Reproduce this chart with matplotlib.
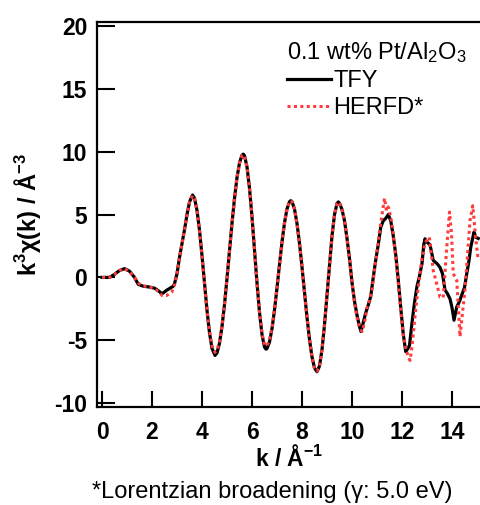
import numpy as np
import matplotlib.pyplot as plt

plt.rcParams['font.family'] = ['Liberation Sans', 'DejaVu Sans']
plt.rcParams['mathtext.fontset'] = 'custom'
plt.rcParams['mathtext.rm'] = 'Liberation Sans'
plt.rcParams['mathtext.bf'] = 'Liberation Sans:bold'
plt.rcParams['mathtext.it'] = 'Liberation Sans:italic'
plt.rcParams['axes.unicode_minus'] = False

# TFY spectrum (k, k^3 chi(k))
k_tfy = [0.0, 0.3, 0.5, 0.7, 0.9, 1.1, 1.3, 1.45, 1.65, 1.85, 2.1, 2.25, 2.4, 2.6, 2.85,
         2.9, 3.0, 3.1, 3.2, 3.3, 3.4, 3.5, 3.62, 3.7, 3.8, 3.9, 4.0, 4.1, 4.2, 4.3, 4.4,
         4.52, 4.6, 4.7, 4.8, 4.9, 5.0, 5.1, 5.2, 5.3, 5.4, 5.5, 5.6, 5.65, 5.7, 5.8, 5.9,
         6.0, 6.1, 6.2, 6.3, 6.4, 6.5, 6.56, 6.6, 6.7, 6.8, 6.9, 7.0, 7.1, 7.2, 7.3, 7.4,
         7.5, 7.55, 7.6, 7.7, 7.8, 7.9, 8.0, 8.1, 8.2, 8.3, 8.4, 8.5, 8.6, 8.7, 8.8, 8.9,
         9.0, 9.1, 9.2, 9.3, 9.4, 9.45, 9.5, 9.6, 9.7, 9.8, 9.9, 10.0, 10.1, 10.2, 10.3,
         10.36, 10.45, 10.55, 10.65, 10.75, 10.85, 10.95, 11.05, 11.15, 11.25, 11.35,
         11.45, 11.55, 11.65, 11.75, 11.85, 11.95, 12.05, 12.15, 12.25, 12.3, 12.4, 12.5,
         12.6, 12.7, 12.8, 12.87, 12.92, 13.0, 13.12, 13.25, 13.4, 13.52, 13.62, 13.72,
         13.82, 13.92, 14.0, 14.08, 14.19, 14.3, 14.39, 14.5, 14.59, 14.67, 14.75, 14.88,
         14.95, 15.05]
chi_tfy = [0.0, 0.0, 0.25, 0.55, 0.7, 0.5, 0.0, -0.55, -0.7, -0.75, -0.85, -1.05, -1.3,
           -1.0, -0.7, -0.5, 0.3, 1.6, 2.7, 3.8, 5.0, 6.0, 6.55, 6.3, 5.33, 3.74, 1.72,
           -0.49, -2.62, -4.41, -5.65, -6.2, -6.0, -5.22, -3.9, -2.14, -0.06, 2.14, 4.31,
           6.3, 7.94, 9.11, 9.72, 9.8, 9.68, 8.78, 7.08, 4.8, 2.18, -0.45, -2.78, -4.55,
           -5.54, -5.7, -5.65, -5.13, -4.07, -2.59, -0.83, 1.04, 2.82, 4.34, 5.45, 6.02,
           6.1, 6.02, 5.43, 4.28, 2.7, 0.82, -1.21, -3.18, -4.94, -6.32, -7.2, -7.5, -7.04,
           -5.73, -3.76, -1.37, 1.1, 3.31, 4.99, 5.88, 6.0, 5.9, 5.4, 4.5, 3.1, 1.5, -0.4,
           -1.9, -3.0, -3.9, -4.3, -3.6, -2.8, -2.2, -1.5, 0.0, 1.4, 2.6, 4.0, 4.5, 4.7,
           5.0, 4.5, 3.3, 1.8, -0.2, -2.4, -4.5, -5.9, -5.6, -5.4, -3.6, -2.0, -0.7, 0.1,
           1.1, 2.6, 3.07, 2.8, 2.6, 1.35, 1.1, 0.8, 0.3, -1.0, -1.3, -1.7, -2.4, -3.4,
           -2.35, -1.9, -1.4, -0.8, 0.3, 1.2, 2.4, 3.6, 3.2, 3.1]

# HERFD spectrum (Lorentzian broadened)
k_herfd = [0.0, 0.3, 0.5, 0.7, 0.9, 1.1, 1.3, 1.45, 1.65, 1.85, 2.1, 2.25, 2.4, 2.59,
           2.79, 2.9, 3.0, 3.1, 3.2, 3.3, 3.4, 3.5, 3.62, 3.7, 3.8, 3.9, 4.0, 4.1, 4.2,
           4.3, 4.4, 4.52, 4.6, 4.7, 4.8, 4.9, 5.0, 5.1, 5.2, 5.3, 5.4, 5.5, 5.6, 5.65,
           5.7, 5.8, 5.9, 6.0, 6.1, 6.2, 6.3, 6.4, 6.5, 6.56, 6.6, 6.7, 6.8, 6.9, 7.0,
           7.1, 7.2, 7.3, 7.4, 7.5, 7.55, 7.6, 7.7, 7.8, 7.9, 8.0, 8.1, 8.2, 8.3, 8.4,
           8.5, 8.6, 8.7, 8.8, 8.9, 9.0, 9.1, 9.2, 9.3, 9.4, 9.45, 9.5, 9.6, 9.7, 9.8,
           9.9, 10.0, 10.1, 10.2, 10.3, 10.4, 10.5, 10.6, 10.7, 10.8, 10.9, 11.0, 11.1,
           11.2, 11.3, 11.38, 11.45, 11.55, 11.65, 11.75, 11.85, 11.95, 12.05, 12.15,
           12.25, 12.32, 12.4, 12.5, 12.6, 12.7, 12.8, 12.9, 12.97, 13.09, 13.25, 13.4,
           13.52, 13.65, 13.79, 13.9, 13.98, 14.05, 14.19, 14.32, 14.42, 14.52, 14.62,
           14.72, 14.83, 14.96, 15.05]
chi_herfd = [0.0, 0.0, 0.25, 0.55, 0.7, 0.45, 0.0, -0.45, -0.7, -0.7, -0.9, -1.1, -1.43,
             -1.43, -1.16, -0.6, 0.3, 1.6, 2.7, 3.8, 5.0, 6.0, 6.5, 6.25, 5.3, 3.7, 1.7,
             -0.5, -2.6, -4.3, -5.45, -5.95, -5.8, -5.1, -3.85, -2.1, -0.06, 2.14, 4.31,
             6.3, 7.94, 9.11, 9.7, 9.75, 9.65, 8.78, 7.08, 4.8, 2.18, -0.45, -2.75,
             -4.45, -5.35, -5.45, -5.4, -5.0, -4.0, -2.55, -0.8, 1.04, 2.82, 4.34, 5.45,
             6.02, 6.1, 6.02, 5.43, 4.28, 2.7, 0.82, -1.21, -3.18, -4.94, -6.32, -7.2,
             -7.45, -7.0, -5.7, -3.76, -1.37, 1.1, 3.31, 4.99, 5.88, 6.0, 5.9, 5.4, 4.5,
             3.1, 1.5, -0.4, -2.0, -3.2, -4.0, -4.3, -3.6, -2.4, -1.8, -1.0, 0.6, 2.0,
             3.6, 5.0, 6.3, 5.3, 5.6, 4.8, 3.4, 1.6, -0.4, -2.6, -4.6, -5.6, -6.3, -6.6,
             -5.5, -3.5, -1.6, 0.0, 1.5, 2.5, 2.9, 3.2, 0.55, -0.6, -1.56, -1.6, 2.4,
             5.2, 3.5, 0.3, -0.24, -4.7, -2.8, -1.0, 1.8, 4.5, 5.7, 2.9, 1.35]

legend_title = "0.1 wt% Pt/Al$_2$O$_3$"
series_labels = ["TFY", "HERFD*"]

fig = plt.figure(figsize=(4.81, 5.05), dpi=100)
ax = fig.add_axes([0.2017, 0.194, 0.7983, 0.7624])

ax.plot(k_tfy, chi_tfy, color='black', lw=2.3, label=series_labels[0])
ax.plot(k_herfd, chi_herfd, color='#ff3b3b', lw=2.2, ls=(0, (1, 1.1)), label=series_labels[1])

ax.set_xlim(-0.2, 15.16)
ax.set_ylim(-10.3, 20.3)
ax.set_xticks(np.arange(0, 15, 2))
ax.set_yticks(np.arange(-10, 21, 5))

for side in ['left', 'bottom', 'top']:
    ax.spines[side].set_linewidth(1.6)
ax.spines['right'].set_visible(False)

ax.tick_params(axis='x', direction='in', length=11.5, width=1.5, pad=10, labelsize=16.5)
ax.tick_params(axis='y', direction='in', length=13, width=1.5, pad=7, labelsize=16.5)
for lbl in ax.get_xticklabels() + ax.get_yticklabels():
    lbl.set_fontweight('bold')

ax.set_xlabel(r"k / Å$^{\mathbf{-1}}$", fontsize=16.5, fontweight='bold', labelpad=1)
ax.set_ylabel(r"k$^{\mathbf{3}}$χ(k) / Å$^{\mathbf{-3}}$", fontsize=17, fontweight='bold')
ax.yaxis.set_label_coords(-0.14, 0.5)

leg = ax.legend(title=legend_title, loc='upper right', bbox_to_anchor=(1.0, 0.99),
                frameon=False, fontsize=17, title_fontsize=17, handlelength=1.85,
                handletextpad=0.1, labelspacing=0.2, borderaxespad=0.2)
leg._legend_box.align = 'left'
leg._legend_box.sep = 4

fig.text(272 / 481, 1 - 492 / 505, "*Lorentzian broadening (γ: 5.0 eV)",
         ha='center', va='center', fontsize=17)

fig.savefig("out.png", dpi=100)
